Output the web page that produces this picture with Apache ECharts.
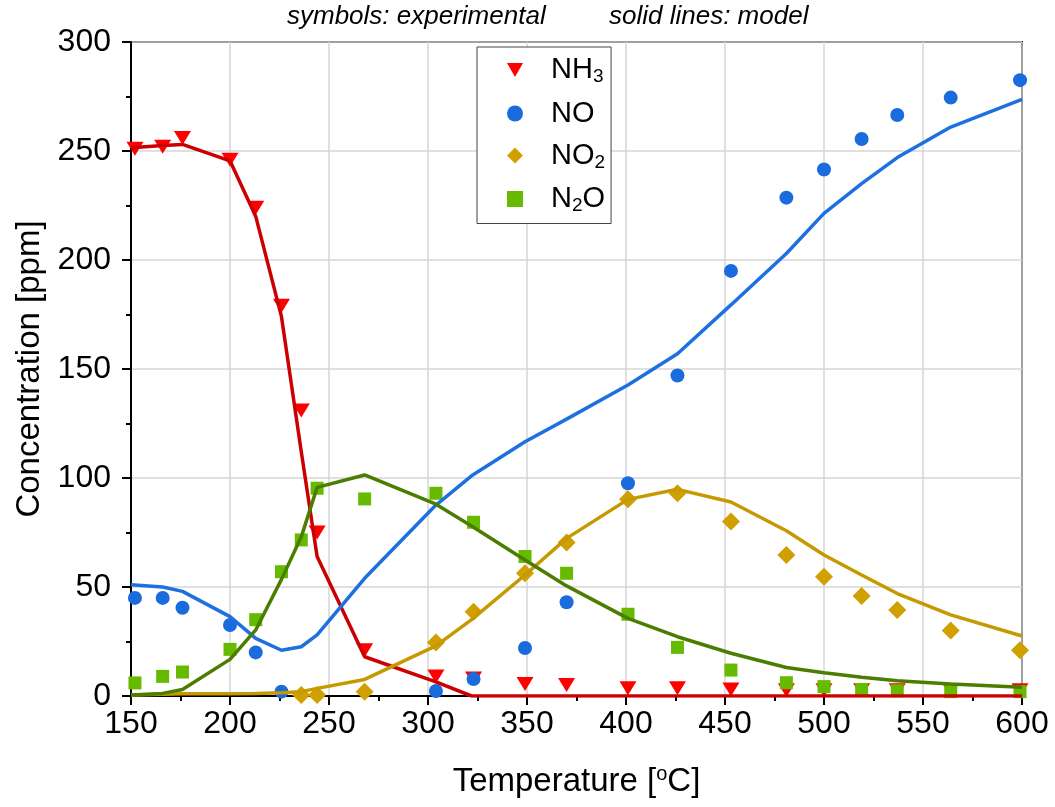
<!DOCTYPE html>
<html>
<head>
<meta charset="utf-8">
<script src="https://cdn.jsdelivr.net/npm/echarts@6/dist/echarts.min.js"></script>
<style>
html,body{margin:0;padding:0;background:#fff;}
#chart{width:1055px;height:807px;}
</style>
</head>
<body>
<div id="chart"></div>
<script>
// Experimental temperatures [°C]
const expT = [152, 166, 176, 200, 213, 226, 236, 244, 268, 304, 323, 349, 370, 401, 426, 453, 481, 500, 519, 537, 564, 599];
// Experimental concentrations [ppm]
const nh3Exp = [251, 252, 256, 246, 224, 179, 131, 75, 21, 9, 8, 5.5, 5, 3.5, 3.5, 3, 2.6, 2.6, 2.6, 2.6, 2.6, 2.6];
const noExp  = [45, 45, 40.5, 32.6, 20, 2, null, null, null, 2.3, 7.8, 22, 43, 97.6, 147, 195, 228.6, 241.5, 255.5, 266.5, 274.5, 282.5];
const no2Exp = [null, null, null, null, null, null, 0.5, 0.5, 2, 24.5, 38.7, 56.3, 70.4, 90.2, 93, 80, 64.7, 54.7, 45.9, 39.4, 30, 21];
const n2oExp = [6, 9, 11, 21.4, 35, 57, 71.6, 95.3, 90.4, 93, 79.7, 64, 56.3, 37.5, 22.3, 11.9, 6.1, 4.3, 3, 2.4, 2, 2];

// Model temperatures [°C]
const modelT = [150, 166, 176, 200, 213, 226, 236, 244, 268, 304, 322, 349, 370, 401, 426, 453, 481, 500, 519, 537, 564, 600];
// Model concentrations [ppm]
const nh3Mod = [251.5, 252.5, 253, 245.5, 220, 174, 112, 64, 18, 6.5, 0, 0, 0, 0, 0, 0, 0, 0, 0, 0, 0, 0];
const noMod  = [51, 50, 48, 36.4, 26.4, 21, 22.6, 28, 54, 87.6, 101, 116.6, 127, 142.7, 157, 179.4, 203, 221.4, 235, 247, 261, 273.7];
const no2Mod = [0.5, 0.8, 1, 1, 1.2, 1.5, 2, 3.5, 7.6, 23, 35, 55.5, 72.3, 90.2, 94.8, 89, 75.8, 64.7, 55.5, 47, 37.2, 27.5];
const n2oMod = [0.5, 1.2, 3, 16.8, 30.3, 53.5, 73, 95.7, 101.4, 88, 78, 62.4, 50.5, 35.6, 27.2, 19.6, 13.1, 10.7, 8.6, 7, 5.5, 4];

const speciesNames = ['NH3', 'NO', 'NO2', 'N2O'];
const legendLabels = {'NH3': 'NH{s|3}', 'NO': 'NO', 'NO2': 'NO{s|2}', 'N2O': 'N{s|2}O'};

const xTitle = 'Temperature [{sup|o}C]';
const yTitle = 'Concentration [ppm]';
const noteLeft = 'symbols: experimental';
const noteRight = 'solid lines: model';

function pairs(xs, ys) {
  const out = [];
  for (let i = 0; i < xs.length; i++) { if (ys[i] !== null) out.push([xs[i], ys[i]]); }
  return out;
}

const FONT = 'Liberation Sans, Arial, sans-serif';
const downTri = 'path://M0,0L2,0L1,1.732Z';

const cfg = [
  {name: 'NH3', exp: nh3Exp, mod: nh3Mod, mColor: '#FF0000', lColor: '#CC0000', symbol: downTri, size: [17, 14], lsize: [16, 13]},
  {name: 'NO',  exp: noExp,  mod: noMod,  mColor: '#1A6BDC', lColor: '#1E70E0', symbol: 'circle', size: 14, lsize: [14, 14]},
  {name: 'NO2', exp: no2Exp, mod: no2Mod, mColor: '#D09F00', lColor: '#C49A00', symbol: 'diamond', size: 18, lsize: [16, 16]},
  {name: 'N2O', exp: n2oExp, mod: n2oMod, mColor: '#66BB00', lColor: '#4A7D00', symbol: 'rect', size: 13, lsize: [12, 12]}
];

const series = [];
cfg.forEach(c => {
  series.push({
    name: c.name, type: 'scatter', data: pairs(expT, c.exp),
    symbol: c.symbol, symbolSize: c.size, itemStyle: {color: c.mColor, opacity: 1}, z: 2, clip: false
  });
});
cfg.forEach(c => {
  series.push({
    name: c.name + ' model', type: 'line', data: pairs(modelT, c.mod),
    showSymbol: false, symbol: 'none', lineStyle: {color: c.lColor, width: 3.5}, itemStyle: {color: c.lColor}, z: 3
  });
});

const chart = echarts.init(document.getElementById('chart'));
chart.setOption({
  animation: false,
  backgroundColor: '#fff',
  textStyle: {fontFamily: FONT},
  title: [
    {text: noteLeft, left: 287, top: 4, padding: 0, textStyle: {fontFamily: FONT, fontStyle: 'italic', fontWeight: 'normal', fontSize: 26, color: '#000'}},
    {text: noteRight, left: 609, top: 4, padding: 0, textStyle: {fontFamily: FONT, fontStyle: 'italic', fontWeight: 'normal', fontSize: 26, color: '#000'}}
  ],
  grid: {left: 131, right: 33, top: 42, bottom: 111, show: true, borderColor: '#000', borderWidth: 2, backgroundColor: 'transparent'},
  legend: {
    data: cfg.map(c => ({name: c.name, icon: c.symbol === 'rect' ? 'rect' : c.symbol})),
    orient: 'vertical', left: 477, top: 47,
    padding: [8, 6, 8, 30],
    itemWidth: 16, itemHeight: 16, itemGap: 12,
    backgroundColor: '#fff', borderColor: '#444', borderWidth: 1,
    formatter: n => legendLabels[n],
    itemStyle: {opacity: 1},
    textStyle: {fontFamily: FONT, fontSize: 29, color: '#000', lineHeight: 30, padding: [0, 0, 0, 23],
      rich: {s: {fontFamily: FONT, fontSize: 19, color: '#000', padding: [14, 0, 0, 0]}}}
  },
  xAxis: {
    type: 'value', min: 150, max: 600, interval: 50,
    name: xTitle, nameLocation: 'middle', nameGap: 68,
    nameTextStyle: {fontFamily: FONT, fontSize: 33, color: '#000',
      rich: {sup: {fontFamily: FONT, fontSize: 20, color: '#000', padding: [0, 0, 16, 0]}}},
    axisLine: {show: true, onZero: false, lineStyle: {color: '#000', width: 2}},
    axisTick: {show: true, inside: false, length: 9, lineStyle: {color: '#000', width: 2}},
    minorTick: {show: true, splitNumber: 2, length: 5, lineStyle: {color: '#000', width: 2}},
    axisLabel: {fontFamily: FONT, fontSize: 32, color: '#000', margin: 12},
    splitLine: {show: true, lineStyle: {color: '#d6d6d6', width: 1.5}}
  },
  yAxis: {
    type: 'value', min: 0, max: 300, interval: 50,
    name: yTitle, nameLocation: 'middle', nameGap: 82, nameRotate: 90,
    nameTextStyle: {fontFamily: FONT, fontSize: 33, color: '#000'},
    axisLine: {show: true, onZero: false, lineStyle: {color: '#000', width: 2}},
    axisTick: {show: true, inside: false, length: 9, lineStyle: {color: '#000', width: 2}},
    minorTick: {show: true, splitNumber: 2, length: 5, lineStyle: {color: '#000', width: 2}},
    axisLabel: {fontFamily: FONT, fontSize: 32, color: '#000', margin: 20},
    splitLine: {show: true, lineStyle: {color: '#d6d6d6', width: 1.5}}
  },
  series: series
});
</script>
</body>
</html>
